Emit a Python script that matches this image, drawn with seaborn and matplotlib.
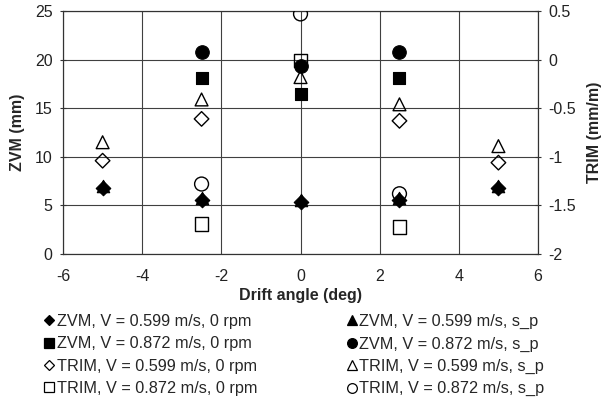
import numpy as np
import pandas as pd
import seaborn as sns
import matplotlib.pyplot as plt
from matplotlib.lines import Line2D

# drift angle (deg)
drift = [-5, -2.5, 0, 2.5, 5]

# ZVM (mm), left axis
zvm_599_0rpm = [6.8, 5.6, 5.4, 5.6, 6.8]
zvm_599_sp = [7.0, 5.8, 5.6, 5.8, 7.0]
zvm_872_0rpm = [np.nan, 18.1, 16.5, 18.1, np.nan]
zvm_872_sp = [np.nan, 20.75, 19.35, 20.75, np.nan]

# TRIM (mm/m), right axis
trim_599_0rpm = [-1.04, -0.61, np.nan, -0.63, -1.06]
trim_599_sp = [-0.85, -0.41, -0.18, -0.46, -0.89]
trim_872_0rpm = [np.nan, -1.69, -0.01, -1.72, np.nan]
trim_872_sp = [np.nan, -1.28, 0.47, -1.38, np.nan]

labels = {
    "zd": "ZVM, V = 0.599 m/s, 0 rpm",
    "zt": "ZVM, V = 0.599 m/s, s_p",
    "zs": "ZVM, V = 0.872 m/s, 0 rpm",
    "zc": "ZVM, V = 0.872 m/s, s_p",
    "td": "TRIM, V = 0.599 m/s, 0 rpm",
    "tt": "TRIM, V = 0.599 m/s, s_p",
    "ts": "TRIM, V = 0.872 m/s, 0 rpm",
    "tc": "TRIM, V = 0.872 m/s, s_p",
}

sns.set_style("white")
plt.rcParams["font.family"] = ["Liberation Sans", "DejaVu Sans"]
plt.rcParams["axes.unicode_minus"] = False

fig = plt.figure(figsize=(6.02, 4.03), dpi=100)
ax = fig.add_axes([0.1047, 0.3697, 0.789, 0.603])
ax2 = ax.twinx()

zvm = [(zvm_599_0rpm, "D", 55), (zvm_599_sp, "^", 80),
       (zvm_872_0rpm, "s", 85), (zvm_872_sp, "o", 95)]
for vals, m, s in zvm:
    df = pd.DataFrame({"drift": drift, "val": vals}).dropna()
    sns.scatterplot(data=df, x="drift", y="val", ax=ax, marker=m, s=s,
                    color="black", edgecolor="black", linewidth=0.8, zorder=3)

trim = [(trim_599_0rpm, "D", 55), (trim_599_sp, "^", 85),
        (trim_872_0rpm, "s", 95), (trim_872_sp, "o", 100)]
for vals, m, s in trim:
    df = pd.DataFrame({"drift": drift, "val": vals}).dropna()
    sns.scatterplot(data=df, x="drift", y="val", ax=ax2, marker=m, s=s,
                    facecolor="none", edgecolor="black", linewidth=1.0, zorder=3)

ax.set_xlim(-6, 6)
ax.set_ylim(0, 25)
ax2.set_ylim(-2, 0.5)
ax.set_xticks(range(-6, 7, 2))
ax.set_yticks(range(0, 26, 5))
ax2.set_yticks([-2, -1.5, -1, -0.5, 0, 0.5])
ax2.set_yticklabels(["-2", "-1.5", "-1", "-0.5", "0", "0.5"])

ax.grid(True, color="0.25", linewidth=0.8)
for a in (ax, ax2):
    for sp in a.spines.values():
        sp.set_color("0.2")
        sp.set_linewidth(0.8)
    a.tick_params(direction="inout", length=5, width=0.8, colors="0.2",
                  labelsize=11.5, labelcolor="#222222", pad=5)
ax.tick_params(axis="x", pad=8)

ax.set_xlabel("Drift angle (deg)", fontsize=11.5, fontweight="bold", labelpad=3)
ax.set_ylabel("ZVM (mm)", fontsize=11.5, fontweight="bold", labelpad=7)
ax2.set_ylabel("TRIM (mm/m)", fontsize=11.5, fontweight="bold", labelpad=8)

def h(m, filled):
    return Line2D([], [], marker=m, linestyle="none", color="black",
                  markersize=7 if m != "D" else 5.5,
                  markerfacecolor="black" if filled else "none",
                  markeredgewidth=0.9)

left = [h("D", True), h("s", True), h("D", False), h("s", False)]
left_lab = [labels["zd"], labels["zs"], labels["td"], labels["ts"]]
right = [h("^", True), h("o", True), h("^", False), h("o", False)]
right_lab = [labels["zt"], labels["zc"], labels["tt"], labels["tc"]]

kw = dict(loc="upper left", frameon=False, fontsize=11.7, handlelength=0.7,
          handletextpad=0.1, borderpad=0, borderaxespad=0, labelspacing=0.45)
fig.legend(left, left_lab, bbox_to_anchor=(0.0724, 0.221), **kw)
fig.legend(right, right_lab, bbox_to_anchor=(0.5748, 0.221), **kw)

fig.savefig("out.png", dpi=100)
